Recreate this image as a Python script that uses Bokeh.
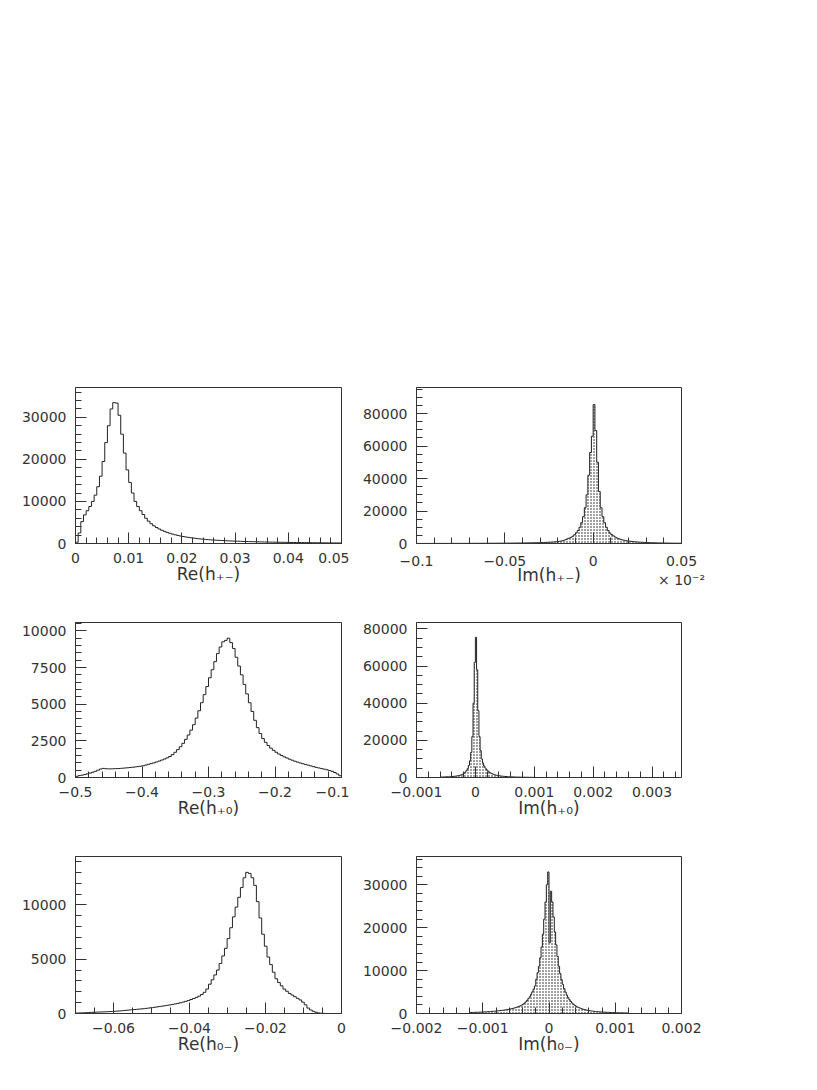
import numpy as np
from bokeh.plotting import figure
from bokeh.layouts import column, row
from bokeh.models import FixedTicker, Range1d
from bokeh.embed import file_html
from bokeh.resources import INLINE

FONT = "DejaVu Sans"
M = "\u2212"

# ---------------- data (histogram bin contents) ----------------
# Panel 1: Re(h+-), bins of 0.0005 starting at 0
re_hpm_lo, re_hpm_w = 0.0, 0.0005
re_hpm = [300, 2500, 5200, 6800, 7800, 8800, 10000, 11500, 13500, 16000,
          19500, 24000, 28000, 32000, 33500, 33400, 30500, 26000, 21500, 17500,
          14500, 12000, 10000, 8800, 7800, 6900, 6000, 5300, 4700, 4200,
          3800, 3450, 3150, 2880, 2640, 2430, 2240, 2070, 1920, 1780,
          1660, 1550, 1450, 1360, 1280, 1200, 1120, 1050, 990, 935,
          885, 840, 800, 760, 725, 690, 660, 630, 600, 575,
          550, 528, 506, 486, 467, 449, 432, 415, 400, 385,
          370, 356, 343, 330, 318, 306, 295, 284, 274, 264,
          255, 246, 237, 229, 221, 213, 206, 199, 192, 185,
          178, 172, 166, 160, 154, 148, 143, 138, 133, 128]

# Panel 2: Im(h+-) (x 10^-2), bins of 0.001 starting at -0.1
im_hpm_lo, im_hpm_w = -0.1, 0.001
im_hpm = [32, 33, 35, 36, 38, 39, 41, 42, 44, 46,
          48, 50, 52, 54, 56, 58, 60, 62, 64, 67,
          70, 73, 76, 79, 82, 85, 88, 91, 94, 97,
          100, 104, 108, 112, 116, 120, 124, 129, 134, 139,
          145, 151, 157, 163, 169, 175, 182, 189, 197, 205,
          215, 225, 235, 246, 257, 268, 280, 292, 304, 317,
          330, 348, 366, 385, 405, 426, 448, 472, 498, 527,
          560, 600, 645, 695, 750, 810, 875, 945, 1020, 1105,
          1200, 1400, 1650, 1950, 2350, 2900, 3300, 3800, 4500, 5400,
          6600, 8000, 10000, 12800, 16500, 22000, 30000, 42000, 56000, 66000,
          85500, 69500, 50000, 32000, 22000, 16500, 12800, 10000, 8000, 6500,
          5500, 4700, 4000, 3400, 2950, 2550, 2250, 2000, 1780, 1600,
          1440, 1300, 1180, 1070, 975, 890, 815, 750, 690, 635,
          585, 540, 500, 465, 432, 402, 375, 350, 327, 306,
          287, 270, 254, 239, 225, 212, 200, 189, 179, 170]

# Panel 3: Re(h+0), bins of 0.004 starting at -0.5
re_hp0_lo, re_hp0_w = -0.5, 0.004
re_hp0 = [80, 130, 160, 200, 250, 300, 360, 420, 500, 580,
          620, 600, 590, 590, 600, 605, 615, 630, 645, 660,
          680, 700, 720, 745, 770, 800, 850, 900, 950, 1000,
          1060, 1120, 1190, 1260, 1340, 1430, 1560, 1720, 1900, 2100,
          2330, 2600, 2900, 3230, 3600, 4050, 4550, 5100, 5650, 6200,
          6800, 7350, 7900, 8450, 8900, 9250, 9350, 9500, 9200, 8800,
          8200, 7600, 7000, 6350, 5700, 5100, 4500, 3900, 3400, 3000,
          2650, 2400, 2180, 2000, 1850, 1720, 1600, 1500, 1410, 1330,
          1250, 1180, 1110, 1050, 990, 940, 890, 840, 790, 740,
          690, 650, 610, 570, 530, 480, 420, 340, 240, 120]

# Panel 4: Im(h+0), bins of 0.00002 starting at -0.0006
im_hp0_lo, im_hp0_w = -0.0006, 0.00002
im_hp0 = [250, 270, 290, 310, 330, 360, 390, 420, 460, 500,
          550, 610, 680, 760, 860, 980, 1130, 1320, 1560, 1870,
          2300, 2900, 3700, 4800, 6500, 9000, 13500, 22000, 40000, 62000,
          75500, 58000, 36000, 22000, 14500, 10000, 7800, 6200, 5100, 4300,
          3600, 3050, 2600, 2250, 1950, 1700, 1500, 1320, 1170, 1040,
          930, 830, 745, 670, 605, 545, 495, 450, 410, 375,
          345, 318, 293, 270, 250, 232, 215, 200, 186, 173,
          161, 150, 140, 131, 122, 114, 107, 100, 94, 88, 83]

# Panel 5: Re(h0-), bins of 0.0007 starting at -0.07
re_h0m_lo, re_h0m_w = -0.07, 0.0007
re_h0m = [40, 50, 60, 70, 80, 100, 110, 120, 130, 140,
          150, 160, 170, 185, 200, 215, 235, 255, 280, 305,
          330, 350, 370, 395, 415, 440, 470, 500, 530, 565,
          600, 635, 670, 710, 750, 790, 835, 880, 930, 990,
          1050, 1120, 1200, 1290, 1380, 1480, 1600, 1750, 1950, 2250,
          2700, 3100, 3550, 4000, 4600, 5300, 6000, 6900, 7900, 8900,
          9800, 10700, 11600, 12500, 13000, 12900, 12500, 11800, 10300, 8800,
          7300, 6200, 5200, 4500, 3800, 3200, 2850, 2550, 2250, 2050,
          1850, 1700, 1550, 1400, 1250, 1050, 800, 500, 320, 200,
          110, 50, 20, 8, 0, 0, 0, 0, 0, 0]

# Panel 6: Im(h0-), bins of 0.00002 starting at -0.0012
im_h0m_lo, im_h0m_w = -0.0012, 0.00002
im_h0m = [230, 240, 250, 260, 270, 280, 290, 305, 320, 335,
          350, 370, 390, 410, 430, 455, 480, 505, 530, 560,
          590, 620, 650, 690, 730, 770, 810, 860, 910, 970,
          1030, 1100, 1170, 1250, 1340, 1440, 1550, 1670, 1800, 1950,
          2150, 2400, 2700, 3050, 3450, 3900, 4450, 5050, 5700, 6400,
          8000, 9500, 11000, 13000, 15500, 18500, 22000, 26000, 30000, 33000,
          16500, 28500, 26000, 22500, 19000, 16000, 13300, 11000, 9300, 7900,
          6800, 5800, 5000, 4300, 3700, 3200, 2800, 2450, 2150, 1900,
          1700, 1530, 1380, 1250, 1130, 1030, 940, 860, 790, 720,
          660, 610, 565, 525, 490, 455, 425, 400, 375, 352,
          330, 310, 292, 275, 260, 246, 233, 221, 210, 200,
          190, 181, 173, 165, 158, 151, 145, 139, 133, 128]

# tick values and labels
p1_xt = [0, 0.01, 0.02, 0.03, 0.04, 0.05]
p1_xl = ["0", "0.01", "0.02", "0.03", "0.04", "0.05"]
p1_yt = [0, 10000, 20000, 30000]
p1_yl = ["0", "10000", "20000", "30000"]

p2_xt = [-0.1, -0.05, 0, 0.05]
p2_xl = [M + "0.1", M + "0.05", "0", "0.05\n\u00d7 10\u207b\u00b2"]
p2_yt = [0, 20000, 40000, 60000, 80000]
p2_yl = ["0", "20000", "40000", "60000", "80000"]

p3_xt = [-0.5, -0.4, -0.3, -0.2, -0.1]
p3_xl = [M + "0.5", M + "0.4", M + "0.3", M + "0.2", M + "0.1"]
p3_yt = [0, 2500, 5000, 7500, 10000]
p3_yl = ["0", "2500", "5000", "7500", "10000"]

p4_xt = [-0.001, 0, 0.001, 0.002, 0.003]
p4_xl = [M + "0.001", "0", "0.001", "0.002", "0.003"]
p4_yt = [0, 20000, 40000, 60000, 80000]
p4_yl = ["0", "20000", "40000", "60000", "80000"]

p5_xt = [-0.06, -0.04, -0.02, 0]
p5_xl = [M + "0.06", M + "0.04", M + "0.02", "0"]
p5_yt = [0, 5000, 10000]
p5_yl = ["0", "5000", "10000"]

p6_xt = [-0.002, -0.001, 0, 0.001, 0.002]
p6_xl = [M + "0.002", M + "0.001", "0", "0.001", "0.002"]
p6_yt = [0, 10000, 20000, 30000]
p6_yl = ["0", "10000", "20000", "30000"]

titles = ["Re(h\u208a\u208b)", "Im(h\u208a\u208b)", "Re(h\u208a\u2080)",
          "Im(h\u208a\u2080)", "Re(h\u2080\u208b)", "Im(h\u2080\u208b)"]

INK = "#333333"


def outline(lo, width, counts):
    c = np.asarray(counts, dtype=float)
    edges = lo + width * np.arange(len(c) + 1)
    xs = np.repeat(edges, 2)
    ys = np.concatenate([[0.0], np.repeat(c, 2), [0.0]])
    return xs, ys


def minor(a, b, step):
    n = int(round((b - a) / step))
    return [round(a + i * step, 9) for i in range(n + 1)]


def panel(xr, ymax, xt, xl, xminor, yt, yl, yminor, title, lo, w, counts,
          filled, fw, fh, mbl, mbt, mbr, label_standoff=-2):
    p = figure(frame_width=fw, frame_height=fh, min_border_left=mbl,
               min_border_right=mbr, min_border_top=mbt, min_border_bottom=60,
               x_range=Range1d(*xr), y_range=Range1d(0, ymax),
               output_backend="svg", toolbar_location=None,
               background_fill_color="white", border_fill_color="white")
    p.grid.visible = False
    p.outline_line_color = INK
    p.outline_line_width = 1
    p.outline_line_alpha = 1.0
    p.xaxis.ticker = FixedTicker(ticks=xt, minor_ticks=xminor)
    p.yaxis.ticker = FixedTicker(ticks=yt, minor_ticks=yminor)
    p.xaxis.major_label_overrides = dict(zip(xt, xl))
    p.yaxis.major_label_overrides = dict(zip(yt, yl))
    for ax in (p.xaxis[0], p.yaxis[0]):
        ax.major_tick_in = 11
        ax.major_tick_out = 0
        ax.minor_tick_in = 6
        ax.minor_tick_out = 0
        ax.major_tick_line_color = INK
        ax.minor_tick_line_color = INK
        ax.axis_line_color = INK
        ax.major_label_text_font = FONT
        ax.major_label_text_font_size = "14px"
        ax.major_label_text_color = INK
        ax.major_label_standoff = 9
    p.xaxis.axis_label = title
    p.xaxis.axis_label_text_font = FONT
    p.xaxis.axis_label_text_font_size = "17px"
    p.xaxis.axis_label_text_font_style = "normal"
    p.xaxis.axis_label_text_color = INK
    p.xaxis.axis_label_standoff = label_standoff
    xs, ys = outline(lo, w, counts)
    if filled:
        p.patch(xs, ys, fill_color="white", line_color=None,
                hatch_pattern="dot", hatch_color="#111111",
                hatch_scale=3, hatch_weight=1.5)
    p.line(xs, ys, line_color="#222222", line_width=1)
    return p


p1 = panel((0, 0.05), 37100, p1_xt, p1_xl, minor(0, 0.05, 0.002),
           p1_yt, p1_yl, minor(0, 36000, 2000), titles[0],
           re_hpm_lo, re_hpm_w, re_hpm, False, 266, 156, 75, 387, 8)
p2 = panel((-0.1, 0.05), 96000, p2_xt, p2_xl, minor(-0.1, 0.05, 0.01),
           p2_yt, p2_yl, minor(0, 95000, 5000), titles[1],
           im_hpm_lo, im_hpm_w, im_hpm, True, 265, 156, 67, 387, 60,
           label_standoff=-26)

p3 = panel((-0.5, -0.1), 10570, p3_xt, p3_xl, minor(-0.5, -0.1, 0.02),
           p3_yt, p3_yl, minor(0, 10500, 500), titles[2],
           re_hp0_lo, re_hp0_w, re_hp0, False, 266, 155, 75, 19, 8)
p4 = panel((-0.001, 0.0035), 83500, p4_xt, p4_xl, minor(-0.001, 0.0034, 0.0002),
           p4_yt, p4_yl, minor(0, 80000, 5000), titles[3],
           im_hp0_lo, im_hp0_w, im_hp0, True, 265, 155, 67, 19, 60)

p5 = panel((-0.07, 0.0), 14460, p5_xt, p5_xl, minor(-0.07, 0.0, 0.005),
           p5_yt, p5_yl, minor(0, 14000, 1000), titles[4],
           re_h0m_lo, re_h0m_w, re_h0m, False, 266, 157, 75, 19, 8)
p6 = panel((-0.002, 0.002), 36600, p6_xt, p6_xl, minor(-0.002, 0.002, 0.0002),
           p6_yt, p6_yl, minor(0, 36000, 2000), titles[5],
           im_h0m_lo, im_h0m_w, im_h0m, True, 265, 157, 67, 19, 60)

layout = column(row(p1, p2), row(p3, p4), row(p5, p6))

with open("out.html", "w") as f:
    f.write(file_html(layout, INLINE))
